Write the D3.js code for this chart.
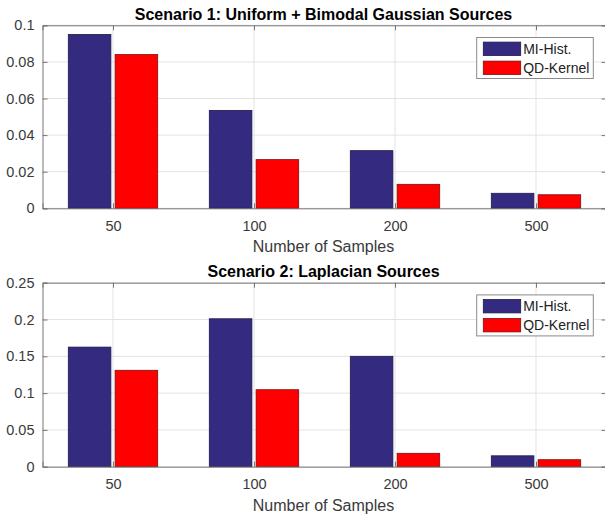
<!DOCTYPE html>
<html>
<head>
<meta charset="utf-8">
<script src="https://cdn.jsdelivr.net/npm/d3@7"></script>
<style>
  body { margin: 0; background: #fff; }
  svg { display: block; font-family: "Liberation Sans", Arial, Helvetica, sans-serif; }
</style>
</head>
<body>
<svg id="chart" width="605" height="516"></svg>
<script>
// chart data
var categories = ["50", "100", "200", "500"];
var seriesNames = ["MI-Hist.", "QD-Kernel"];
var miHist1 = [0.095, 0.0535, 0.0315, 0.0082];
var qdKernel1 = [0.084, 0.0266, 0.0131, 0.0074];
var miHist2 = [0.1625, 0.201, 0.150, 0.0148];
var qdKernel2 = [0.131, 0.1046, 0.0182, 0.0095];
var yTicks1 = [0, 0.02, 0.04, 0.06, 0.08, 0.1];
var yTicks2 = [0, 0.05, 0.1, 0.15, 0.2, 0.25];
var titles = ["Scenario 1: Uniform + Bimodal Gaussian Sources", "Scenario 2: Laplacian Sources"];
var xLabel = "Number of Samples";

var colors = ["#342a80", "#ff0000"];
var edgeColors = ["#1e1a4a", "#7a1010"];

var svg = d3.select("#chart");

function drawPanel(top, bottom, title, series, yTicks, yMax) {
  var left = 42.5, right = 606.5;
  var g = svg.append("g");

  var x = d3.scalePoint().domain(categories).range([left, right]).padding(0.5);
  var x1 = d3.scaleBand().domain(seriesNames).range([-44.7, 44.7]).paddingInner(0.09);
  var y = d3.scaleLinear().domain([0, yMax]).range([bottom, top]);

  // grid
  g.selectAll(".hgrid").data(yTicks).enter().append("line")
    .attr("x1", left).attr("x2", right)
    .attr("y1", function(d){ return y(d); }).attr("y2", function(d){ return y(d); })
    .attr("stroke", "#e3e3e3").attr("stroke-width", 1);
  g.selectAll(".vgrid").data(categories).enter().append("line")
    .attr("x1", function(d){ return x(d); }).attr("x2", function(d){ return x(d); })
    .attr("y1", top).attr("y2", bottom)
    .attr("stroke", "#e3e3e3").attr("stroke-width", 1);

  // bars
  var groups = g.selectAll(".grp").data(categories).enter().append("g")
    .attr("transform", function(d){ return "translate(" + x(d) + ",0)"; });
  groups.selectAll("rect").data(function(d, i){
      return seriesNames.map(function(s, j){ return {s: s, j: j, v: series[j][i]}; });
    }).enter().append("rect")
    .attr("x", function(d){ return x1(d.s); })
    .attr("width", x1.bandwidth())
    .attr("y", function(d){ return y(d.v); })
    .attr("height", function(d){ return bottom - y(d.v); })
    .attr("fill", function(d){ return colors[d.j]; })
    .attr("stroke", function(d){ return edgeColors[d.j]; })
    .attr("stroke-width", 0.8);

  // axes
  var yAxis = d3.axisLeft(y).tickValues(yTicks).tickSize(-5).tickPadding(8)
    .tickFormat(function(d){ return String(d); });
  var ya = g.append("g").attr("transform", "translate(" + left + ",0)").call(yAxis);
  var yr = g.append("g").attr("transform", "translate(" + right + ",0)")
    .call(d3.axisRight(y).tickValues(yTicks).tickSize(-5).tickFormat(""));
  var xAxis = d3.axisBottom(x).tickSize(-5).tickPadding(12);
  var xa = g.append("g").attr("transform", "translate(0," + bottom + ")").call(xAxis);
  var xt = g.append("g").attr("transform", "translate(0," + top + ")")
    .call(d3.axisTop(x).tickSize(-5).tickFormat(""));

  [ya, yr, xa, xt].forEach(function(a){
    a.select(".domain").attr("stroke", "#777").attr("stroke-width", 1);
    a.selectAll(".tick line").attr("stroke", "#777");
    a.selectAll(".tick text").attr("fill", "#3a3a3a").style("font-size", "14.5px")
      .style("font-family", "'Liberation Sans', Arial, sans-serif");
  });

  // title
  g.append("text").attr("x", (left + right) / 2 - 1).attr("y", top - 5.5)
    .attr("text-anchor", "middle").style("font-size", "16px").style("font-weight", "bold")
    .attr("fill", "#000").text(title);
  // x label
  g.append("text").attr("x", (left + right) / 2 - 1).attr("y", bottom + 44)
    .attr("text-anchor", "middle").style("font-size", "16px")
    .attr("fill", "#3a3a3a").text(xLabel);

  // legend
  var lx = 476.7, ly = top + 12.2;
  var lg = g.append("g").attr("transform", "translate(" + lx + "," + ly + ")");
  lg.append("rect").attr("width", 116.6).attr("height", 41)
    .attr("fill", "#fff").attr("stroke", "#8a8a8a").attr("stroke-width", 1);
  seriesNames.forEach(function(s, j){
    lg.append("rect").attr("x", 6.6).attr("y", 4.6 + j * 19)
      .attr("width", 37.4).attr("height", 13.4)
      .attr("fill", colors[j]).attr("stroke", edgeColors[j]).attr("stroke-width", 0.8);
    lg.append("text").attr("x", 46.5).attr("y", 16 + j * 19)
      .style("font-size", "14px").attr("fill", "#222").text(s);
  });
}

drawPanel(25.3, 208.3, titles[0], [miHist1, qdKernel1], yTicks1, 0.1);
drawPanel(282.7, 466.7, titles[1], [miHist2, qdKernel2], yTicks2, 0.25);
</script>
</body>
</html>
